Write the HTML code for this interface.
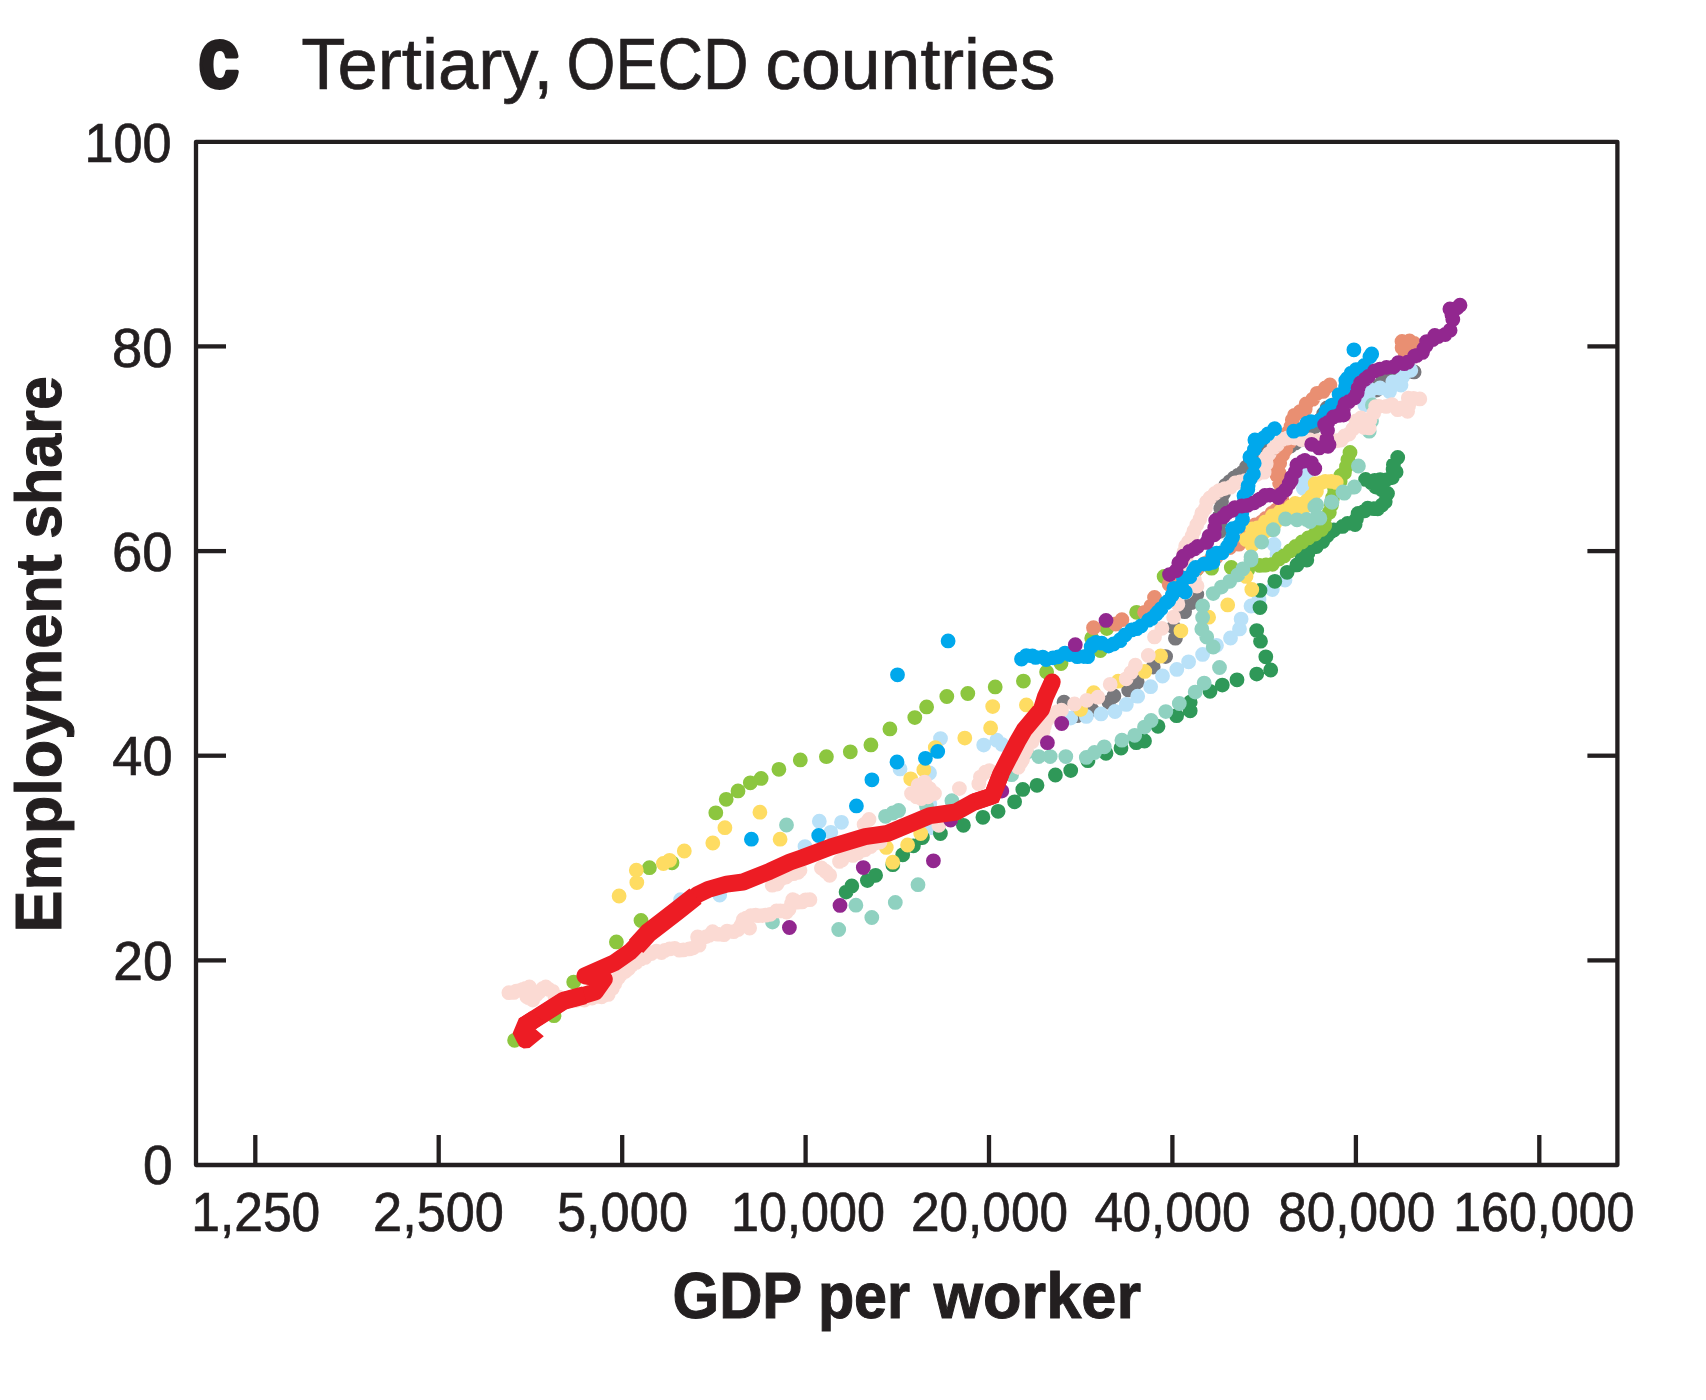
<!DOCTYPE html>
<html lang="en"><head><meta charset="utf-8"><title>Tertiary, OECD countries</title>
<style>
html,body{margin:0;padding:0;background:#fff;}
body{width:1706px;height:1400px;overflow:hidden;font-family:"Liberation Sans",sans-serif;}
svg{display:block;}
text{font-family:"Liberation Sans",sans-serif;fill:#231f20;}
.ax{stroke:#231f20;stroke-width:4.3;fill:none;stroke-linecap:butt;}
.tl{font-size:55.5px;}
.b{font-weight:bold;}
</style></head><body>
<svg width="1706" height="1400" viewBox="0 0 1706 1400">
<rect x="0" y="0" width="1706" height="1400" fill="#ffffff"/>
<g id="series">
<path id="s-gray" d="M1219.8 531.3h.01M1219.9 523.1h.01M1220.0 515.0h.01M1220.8 508.4h.01M1221.5 501.8h.01M1223.5 493.6h.01M1225.6 485.3h.01M1229.8 481.6h.01M1234.0 478.0h.01M1238.4 475.1h.01M1242.8 472.2h.01M1246.4 467.1h.01M1250.0 462.0h.01M1256.0 457.0h.01M1262.0 452.0h.01M1269.0 450.0h.01M1276.0 448.0h.01M1283.2 447.0h.01M1290.4 446.0h.01M1295.2 443.0h.01M1300.0 440.0h.01M1305.3 436.3h.01M1310.7 432.6h.01M1315.3 426.3h.01M1320.0 420.0h.01M1323.5 414.0h.01M1327.0 408.0h.01M1333.5 405.0h.01M1340.0 402.0h.01M1347.5 399.0h.01M1355.0 396.0h.01M1361.5 394.0h.01M1368.0 392.0h.01M1376.4 390.0h.01M1379.7 385.1h.01M1382.9 380.1h.01M1389.0 378.1h.01M1395.0 376.0h.01M1400.0 374.5h.01M1405.0 373.0h.01M1414.1 371.9h.01M1064.0 702.2h.01M1076.9 715.7h.01M1091.7 709.6h.01M1108.9 702.2h.01M1113.9 696.0h.01M1128.6 689.9h.01M1137.2 681.9h.01M1153.2 667.1h.01M1165.6 656.6h.01M1175.4 638.2h.01M1173.6 627.1h.01M1184.6 611.7h.01M1191.4 602.5h.01M1196.8 594.5h.01" fill="none" stroke="#78787c" stroke-width="14.8" stroke-linecap="round"/>
<path id="s-lblue" d="M1070.7 718.1h.01M1086.3 716.4h.01M1101.0 713.9h.01M1115.0 711.5h.01M1126.3 704.4h.01M1137.7 696.2h.01M1150.6 686.7h.01M1162.5 676.0h.01M1176.8 669.4h.01M1188.6 661.8h.01M1202.6 654.4h.01M1216.5 645.3h.01M1230.5 638.0h.01M1239.5 628.9h.01M1241.1 619.1h.01M1251.0 606.0h.01M1259.0 599.4h.01M1272.3 589.5h.01M1285.0 580.0h.01M819.3 821.2h.01M841.5 822.3h.01M830.8 832.3h.01M805.0 846.6h.01M719.7 895.0h.01M680.6 899.7h.01M929.8 804.0h.01M931.4 827.7h.01M940.5 738.6h.01M983.7 745.1h.01M996.8 740.2h.01M1001.8 744.3h.01M900.0 768.9h.01M929.5 773.0h.01M1274.0 544.4h.01M1277.0 554.0h.01M1303.5 482.1h.01M1305.0 472.0h.01M1306.6 478.5h.01M1303.3 488.3h.01M1368.2 394.9h.01M1364.9 404.7h.01M1389.5 391.6h.01M1392.8 381.8h.01M1401.0 385.0h.01M1402.6 376.8h.01M1410.8 370.3h.01M1370.6 389.8h.01M1380.0 388.0h.01" fill="none" stroke="#b9e1f8" stroke-width="14.8" stroke-linecap="round"/>
<path id="s-dgreen" d="M1301.9 555.9h.01M1307.9 553.5h.01M1310.2 547.7h.01M1316.5 546.6h.01M1322.7 541.5h.01M1327.0 535.7h.01M1330.5 532.0h.01M1333.8 530.0h.01M1342.6 526.4h.01M1347.5 523.4h.01M1355.1 524.5h.01M1356.4 519.1h.01M1358.1 513.5h.01M1364.8 510.8h.01M1367.7 508.2h.01M1373.9 508.7h.01M1377.7 508.8h.01M1382.0 504.9h.01M1385.2 501.8h.01M1387.5 493.4h.01M1382.1 490.1h.01M1375.8 487.1h.01M1371.4 482.7h.01M1365.6 479.4h.01M1374.7 480.4h.01M1380.1 479.7h.01M1386.1 479.8h.01M1392.3 477.6h.01M1396.1 472.0h.01M1393.1 469.4h.01M1393.4 464.8h.01M1397.7 457.4h.01M846.1 892.1h.01M851.8 886.0h.01M867.4 880.6h.01M875.6 875.3h.01M892.8 864.7h.01M902.7 854.8h.01M913.4 845.8h.01M922.4 837.6h.01M940.4 833.5h.01M963.4 825.3h.01M982.9 817.3h.01M998.1 811.3h.01M1014.6 801.8h.01M1022.8 789.4h.01M1037.0 785.3h.01M1055.4 775.0h.01M1070.7 770.6h.01M1087.9 760.7h.01M1106.0 753.3h.01M1121.0 748.0h.01M1136.3 742.7h.01M1144.5 741.0h.01M1158.0 726.3h.01M1176.6 715.7h.01M1190.2 710.8h.01M1190.2 702.2h.01M1210.0 691.3h.01M1222.3 685.1h.01M1237.0 679.8h.01M1256.7 674.1h.01M1270.7 670.0h.01M1265.8 656.8h.01M1260.5 641.2h.01M1256.7 630.6h.01M1260.0 607.6h.01M1260.0 590.4h.01M1274.8 581.3h.01M1287.1 572.3h.01M1296.9 564.9h.01M1306.8 560.0h.01" fill="none" stroke="#2f9858" stroke-width="14.8" stroke-linecap="round"/>
<path id="s-lgreen" d="M1321.5 529.5h.01M1324.8 525.6h.01M1324.5 518.3h.01M1329.3 512.6h.01M1331.4 505.0h.01M1332.6 497.8h.01M1334.6 493.6h.01M1334.5 488.1h.01M1340.1 481.4h.01M1340.9 475.4h.01M1344.4 472.7h.01M1346.5 466.5h.01M1347.9 459.7h.01M1350.0 452.5h.01M514.6 1040.3h.01M554.0 1015.7h.01M573.7 982.1h.01M616.4 941.9h.01M641.0 920.5h.01M649.4 867.7h.01M672.0 862.8h.01M715.8 812.8h.01M726.2 799.3h.01M738.0 790.9h.01M750.3 782.8h.01M761.1 778.4h.01M778.9 769.3h.01M800.3 759.9h.01M826.4 756.7h.01M850.3 751.8h.01M870.9 744.9h.01M889.9 728.9h.01M914.8 717.6h.01M926.6 706.9h.01M946.8 696.5h.01M967.8 693.5h.01M995.2 686.9h.01M1023.4 681.1h.01M1046.6 672.1h.01M1061.0 663.5h.01M1091.7 638.2h.01M1100.3 650.5h.01M1106.8 628.6h.01M1136.6 612.3h.01M1164.1 576.5h.01M1180.0 572.0h.01M1196.0 570.0h.01M1211.6 568.2h.01M1231.3 567.4h.01M1247.7 569.8h.01M1259.7 565.4h.01M1266.0 565.0h.01M1272.4 564.3h.01M1278.9 559.0h.01M1284.0 555.9h.01M1290.0 551.0h.01M1295.6 546.4h.01M1302.0 542.0h.01M1308.2 537.9h.01M1315.0 534.0h.01" fill="none" stroke="#8cc63f" stroke-width="14.8" stroke-linecap="round"/>
<path id="s-salmon" d="M1180.4 578.1h.01M1187.4 575.0h.01M1190.4 568.1h.01M1197.8 567.9h.01M1205.2 563.3h.01M1211.1 559.0h.01M1216.2 557.1h.01M1219.9 553.2h.01M1229.8 547.5h.01M1232.8 543.6h.01M1238.9 544.2h.01M1243.4 540.9h.01M1247.7 536.0h.01M1252.8 530.7h.01M1255.1 525.0h.01M1262.0 521.8h.01M1265.7 518.4h.01M1271.9 513.2h.01M1276.1 510.2h.01M1281.9 506.9h.01M1281.7 499.5h.01M1280.6 492.4h.01M1279.6 483.3h.01M1277.1 475.4h.01M1279.1 472.9h.01M1277.0 468.7h.01M1279.7 463.0h.01M1282.7 454.8h.01M1283.8 451.8h.01M1285.8 449.3h.01M1289.7 442.0h.01M1288.1 432.5h.01M1291.0 426.4h.01M1292.3 419.9h.01M1294.5 415.3h.01M1300.0 411.7h.01M1305.2 409.1h.01M1306.1 404.0h.01M1312.7 399.2h.01M1317.1 393.3h.01M1323.2 391.4h.01M1325.4 388.0h.01M1329.9 385.0h.01M1402.0 341.5h.01M1409.5 341.0h.01M1414.2 343.5h.01M1411.2 349.7h.01M1404.9 351.9h.01M1402.1 347.8h.01M1093.5 627.7h.01M1115.7 624.0h.01M1121.9 619.7h.01M1144.6 612.3h.01M1150.8 606.2h.01M1154.5 597.5h.01M1169.2 584.3h.01" fill="none" stroke="#e98f72" stroke-width="14.8" stroke-linecap="round"/>
<path id="s-yellow" d="M1246.1 539.5h.01M1251.1 536.1h.01M1252.2 528.9h.01M1257.4 527.8h.01M1265.4 521.8h.01M1272.3 516.0h.01M1277.6 514.4h.01M1280.6 511.2h.01M1290.5 507.0h.01M1295.2 503.4h.01M1301.8 504.1h.01M1306.9 500.9h.01M1312.5 497.4h.01M1316.0 490.5h.01M1315.2 483.6h.01M1321.6 482.6h.01M1325.2 481.3h.01M1331.3 481.4h.01M1336.2 482.4h.01M1252.0 545.0h.01M1258.4 539.3h.01M1264.5 531.7h.01M1271.3 529.6h.01M1274.8 523.6h.01M1284.7 517.4h.01M1291.1 514.0h.01M1296.9 512.0h.01M1304.8 506.4h.01M759.9 812.2h.01M724.9 827.7h.01M712.8 843.0h.01M780.1 839.2h.01M907.6 845.0h.01M886.3 847.4h.01M892.8 862.2h.01M920.7 833.5h.01M619.1 896.0h.01M636.8 882.5h.01M636.3 870.2h.01M663.4 863.5h.01M669.6 860.3h.01M684.3 851.0h.01M992.7 706.6h.01M1026.4 704.9h.01M990.6 727.9h.01M964.8 738.1h.01M935.3 747.6h.01M923.8 769.8h.01M910.7 778.8h.01M1080.6 709.6h.01M1160.6 656.0h.01M1144.8 671.4h.01M1118.2 681.2h.01M1093.7 692.7h.01M1251.8 589.5h.01M1227.7 604.9h.01M1180.9 630.8h.01M1208.6 617.2h.01M1246.0 576.4h.01M1316.4 491.6h.01M1311.5 496.5h.01" fill="none" stroke="#fedc62" stroke-width="14.8" stroke-linecap="round"/>
<path id="s-teal" d="M1251.0 557.0h.01M1261.7 542.0h.01M1273.2 529.7h.01M1285.5 519.0h.01M1297.0 519.8h.01M1310.1 521.5h.01M1319.9 518.2h.01M1316.6 505.0h.01M1331.4 501.8h.01M1342.9 491.9h.01M1354.4 487.0h.01M1202.6 617.4h.01M1202.6 606.0h.01M1213.2 593.6h.01M1221.4 587.1h.01M1229.7 581.3h.01M1237.9 574.8h.01M1242.8 569.0h.01M1251.0 560.0h.01M1213.2 647.0h.01M1206.7 637.1h.01M1201.8 628.9h.01M1202.6 617.4h.01M772.5 922.1h.01M838.7 929.5h.01M855.9 905.2h.01M871.8 917.5h.01M895.3 902.4h.01M918.0 884.7h.01M786.5 825.0h.01M885.5 816.3h.01M892.8 813.0h.01M898.6 810.5h.01M926.5 806.4h.01M951.9 800.7h.01M1011.6 774.7h.01M1026.4 752.5h.01M1038.7 756.6h.01M1050.2 756.6h.01M1065.8 756.6h.01M1086.3 757.4h.01M1094.5 752.5h.01M1104.3 746.8h.01M1121.9 740.2h.01M1134.7 735.3h.01M1144.5 727.1h.01M1151.1 720.5h.01M1165.8 711.6h.01M1179.3 703.5h.01M1195.2 692.1h.01M1204.2 683.1h.01M1219.5 667.5h.01M1358.4 466.0h.01M1344.3 493.2h.01M1332.0 502.3h.01M1314.8 506.4h.01M1316.4 517.9h.01M1306.6 519.5h.01M1371.5 421.1h.01M1369.2 431.2h.01M1372.4 405.0h.01" fill="none" stroke="#8fd1c0" stroke-width="14.8" stroke-linecap="round"/>
<path id="s-pink" d="M508.9 992.7h.01M513.8 992.4h.01M516.3 991.1h.01M521.0 990.1h.01M522.8 989.4h.01M525.7 988.3h.01M529.4 987.0h.01M528.7 990.5h.01M526.9 996.8h.01M528.7 997.7h.01M532.7 1000.1h.01M536.3 994.8h.01M539.2 991.9h.01M542.9 988.4h.01M545.8 987.0h.01M549.1 989.4h.01M552.6 991.3h.01M554.8 996.0h.01M559.1 997.2h.01M565.0 999.0h.01M570.0 1000.3h.01M576.2 1000.3h.01M580.0 999.0h.01M584.4 1000.0h.01M588.5 997.2h.01M592.0 998.0h.01M596.2 996.4h.01M601.6 996.8h.01M604.2 995.3h.01M608.2 994.4h.01M608.9 991.1h.01M612.3 988.6h.01M614.7 983.7h.01M615.7 981.2h.01M618.6 977.6h.01M621.3 973.9h.01M625.1 971.4h.01M626.2 970.6h.01M628.4 968.8h.01M631.6 965.2h.01M636.1 962.4h.01M640.9 959.0h.01M645.1 957.4h.01M646.4 955.6h.01M648.4 952.5h.01M651.3 953.5h.01M656.4 951.1h.01M661.5 952.5h.01M664.7 950.4h.01M669.6 948.9h.01M674.7 948.3h.01M679.4 950.2h.01M683.4 949.9h.01M689.3 948.9h.01M693.0 948.1h.01M699.1 945.2h.01M698.5 940.7h.01M697.6 937.0h.01M701.7 937.9h.01M706.5 936.6h.01M709.3 935.3h.01M712.6 931.7h.01M713.8 932.8h.01M717.6 934.2h.01M723.9 934.7h.01M727.1 931.1h.01M733.6 931.7h.01M738.1 929.5h.01M741.0 925.6h.01M742.6 922.4h.01M743.4 919.4h.01M746.2 918.1h.01M750.8 915.7h.01M755.7 915.1h.01M758.2 915.7h.01M762.3 915.6h.01M765.6 915.2h.01M770.3 914.3h.01M776.5 910.9h.01M780.3 910.8h.01M783.4 911.1h.01M786.5 912.0h.01M789.0 909.2h.01M791.6 903.4h.01M792.7 899.7h.01M794.4 900.4h.01M797.6 902.2h.01M802.1 901.9h.01M805.6 899.8h.01M809.9 899.7h.01M772.2 885.2h.01M776.9 884.0h.01M778.8 881.1h.01M782.4 878.0h.01M786.0 877.0h.01M788.5 875.0h.01M793.5 873.7h.01M798.1 872.3h.01M800.0 870.2h.01M821.4 868.0h.01M825.2 871.0h.01M826.4 872.1h.01M829.7 875.3h.01M839.5 861.4h.01M841.9 860.0h.01M846.1 855.6h.01M852.9 855.4h.01M857.6 853.2h.01M863.3 850.0h.01M864.9 849.7h.01M870.7 846.6h.01M875.4 843.0h.01M880.0 842.0h.01M1018.2 767.3h.01M1020.9 762.3h.01M1022.5 759.4h.01M1024.8 752.6h.01M1026.4 749.2h.01M1028.9 743.6h.01M1032.0 741.7h.01M1036.2 736.1h.01M1038.3 733.0h.01M1043.1 731.0h.01M1044.4 726.3h.01M1046.2 721.1h.01M1051.0 716.4h.01M1053.5 715.4h.01M1057.5 711.6h.01M1061.5 710.2h.01M1194.4 579.7h.01M1190.8 574.6h.01M1191.1 568.9h.01M1188.0 565.0h.01M1186.1 557.4h.01M1184.0 552.0h.01M1185.7 546.1h.01M1188.4 541.9h.01M1191.9 536.2h.01M1193.9 530.9h.01M1196.8 524.7h.01M1199.8 519.3h.01M1201.8 513.2h.01M1205.4 508.6h.01M1206.7 501.8h.01M1209.9 498.0h.01M1214.9 493.5h.01M1219.2 490.6h.01M1224.7 488.6h.01M1230.4 487.2h.01M1235.2 482.9h.01M1240.0 482.0h.01M1245.1 480.7h.01M1252.0 477.0h.01M1256.8 474.6h.01M1264.1 472.2h.01M1266.2 463.7h.01M1265.8 457.4h.01M1269.3 453.6h.01M1274.0 447.6h.01M1277.2 444.7h.01M1282.2 439.4h.01M1287.5 438.0h.01M1295.0 438.0h.01M1301.7 439.7h.01M1310.0 440.0h.01M1317.9 440.6h.01M1325.0 441.0h.01M1330.7 441.2h.01M1337.1 440.7h.01M1341.0 440.0h.01M1344.6 436.0h.01M1349.0 434.0h.01M1352.8 428.9h.01M1356.0 421.0h.01M1361.0 418.0h.01M1362.6 423.8h.01M1364.0 427.6h.01M1369.2 427.9h.01M1369.9 420.0h.01M1373.7 412.9h.01M1375.7 406.6h.01M1378.8 406.3h.01M1386.2 406.4h.01M1391.9 404.6h.01M1397.7 409.7h.01M1401.8 407.9h.01M1407.6 411.3h.01M1408.6 405.8h.01M1408.3 398.1h.01M1413.5 398.3h.01M1419.8 398.9h.01M749.6 928.0h.01M869.0 819.5h.01M864.1 824.5h.01M938.8 825.3h.01M911.5 793.5h.01M918.1 785.3h.01M924.6 782.1h.01M929.5 788.6h.01M934.5 793.5h.01M921.3 798.5h.01M916.4 796.8h.01M927.9 796.8h.01M980.4 777.1h.01M989.4 770.6h.01M1197.0 586.0h.01M959.4 788.6h.01M978.8 783.7h.01M985.3 772.2h.01M1074.5 704.0h.01M1086.8 700.3h.01M1097.9 697.2h.01M1110.2 684.3h.01M1126.2 678.8h.01M1131.1 672.6h.01M1135.4 665.2h.01M1148.3 655.4h.01M1154.5 636.9h.01M1161.9 628.3h.01M1173.6 617.2h.01M1177.9 604.3h.01M1186.0 592.0h.01" fill="none" stroke="#fbdad3" stroke-width="14.8" stroke-linecap="round"/>
<path id="s-blue" d="M1021.5 659.0h.01M1026.3 655.6h.01M1032.4 655.9h.01M1035.6 657.4h.01M1042.7 657.1h.01M1046.2 659.6h.01M1053.1 657.8h.01M1058.2 656.8h.01M1065.0 653.1h.01M1069.6 654.5h.01M1077.3 656.7h.01M1083.9 656.6h.01M1087.7 656.7h.01M1091.1 646.8h.01M1092.9 644.1h.01M1096.0 642.3h.01M1101.7 643.2h.01M1108.6 646.1h.01M1113.5 644.0h.01M1120.1 640.7h.01M1120.2 639.7h.01M1125.0 634.9h.01M1131.7 629.9h.01M1136.7 628.7h.01M1141.0 625.9h.01M1148.5 620.2h.01M1151.7 618.4h.01M1156.3 613.9h.01M1158.0 611.9h.01M1161.0 608.7h.01M1166.2 602.7h.01M1168.8 600.5h.01M1172.1 595.3h.01M1173.9 588.3h.01M1181.6 586.0h.01M1183.4 578.1h.01M1189.9 576.7h.01M1193.4 570.9h.01M1195.6 567.4h.01M1203.9 564.1h.01M1208.3 563.5h.01M1213.0 562.3h.01M1213.0 554.1h.01M1216.6 553.1h.01M1222.0 552.7h.01M1227.6 546.4h.01M1230.3 542.1h.01M1232.6 537.0h.01M1232.6 528.7h.01M1238.5 526.5h.01M1242.5 519.4h.01M1241.7 513.7h.01M1241.7 506.7h.01M1244.7 499.9h.01M1244.0 495.8h.01M1247.8 489.6h.01M1248.1 485.7h.01M1250.5 478.5h.01M1253.4 474.0h.01M1254.2 463.3h.01M1249.9 457.0h.01M1254.4 449.6h.01M1257.9 442.2h.01M1264.1 437.6h.01M1267.9 433.9h.01M1274.6 428.7h.01M1293.7 431.2h.01M1302.1 429.1h.01M1306.8 423.2h.01M1310.9 421.7h.01M1320.2 420.2h.01M1324.5 416.3h.01M1326.2 411.1h.01M1331.6 405.3h.01M1339.0 403.1h.01M1339.1 394.6h.01M1344.0 393.4h.01M1345.6 386.2h.01M1345.8 380.6h.01M1347.3 378.5h.01M1351.2 373.1h.01M1356.0 369.7h.01M1364.3 365.5h.01M1369.9 356.7h.01M1371.7 354.0h.01M751.4 839.2h.01M818.7 835.5h.01M856.4 805.9h.01M871.9 779.8h.01M897.0 762.0h.01M897.5 674.8h.01M925.4 758.3h.01M937.7 751.4h.01M948.1 640.9h.01M1185.3 592.0h.01M1353.9 349.8h.01M1254.9 440.0h.01" fill="none" stroke="#00a8ec" stroke-width="14.8" stroke-linecap="round"/>
<path id="s-purple" d="M1169.5 574.6h.01M1176.1 570.7h.01M1178.8 563.0h.01M1181.0 561.8h.01M1183.3 556.2h.01M1189.4 551.3h.01M1194.7 548.8h.01M1197.6 546.4h.01M1206.8 542.3h.01M1209.0 536.2h.01M1214.2 534.8h.01M1214.7 527.7h.01M1215.7 520.4h.01M1223.3 516.8h.01M1226.6 513.2h.01M1232.1 510.6h.01M1234.9 507.6h.01M1241.8 506.0h.01M1247.6 505.3h.01M1254.0 502.8h.01M1258.1 500.2h.01M1260.3 498.9h.01M1264.9 495.5h.01M1269.7 495.1h.01M1278.3 497.5h.01M1281.1 494.1h.01M1285.5 490.0h.01M1289.2 483.5h.01M1291.2 480.5h.01M1291.5 477.2h.01M1295.3 471.8h.01M1296.9 465.0h.01M1302.9 461.3h.01M1311.4 462.8h.01M1314.4 468.0h.01M1311.7 444.3h.01M1319.2 447.9h.01M1328.0 446.3h.01M1329.0 444.7h.01M1326.8 439.1h.01M1327.5 430.4h.01M1324.6 424.5h.01M1327.9 422.5h.01M1333.3 416.9h.01M1338.3 415.4h.01M1343.6 415.1h.01M1343.4 408.7h.01M1345.0 403.7h.01M1348.7 401.7h.01M1354.3 398.1h.01M1357.2 392.8h.01M1358.1 387.9h.01M1360.4 383.0h.01M1365.0 379.2h.01M1368.4 376.4h.01M1374.6 370.8h.01M1379.9 369.1h.01M1386.5 367.3h.01M1393.6 366.8h.01M1398.4 362.6h.01M1404.3 363.7h.01M1407.6 362.2h.01M1414.4 356.2h.01M1416.7 355.4h.01M1422.4 352.4h.01M1423.9 348.4h.01M1426.2 345.5h.01M1426.6 341.6h.01M1432.8 339.5h.01M1434.8 335.5h.01M1438.2 336.5h.01M1445.2 334.5h.01M1450.1 330.2h.01M1452.8 319.4h.01M1451.9 314.8h.01M1449.9 308.9h.01M1457.2 307.8h.01M1460.0 305.2h.01M789.4 927.5h.01M840.0 905.4h.01M863.3 867.6h.01M933.4 860.8h.01M950.6 820.0h.01M1001.8 791.1h.01M1047.4 742.7h.01M1061.7 723.5h.01M1075.3 644.7h.01M1106.0 620.4h.01M1304.9 460.4h.01M1314.8 468.6h.01" fill="none" stroke="#92278f" stroke-width="14.8" stroke-linecap="round"/>
<path id="s-red" d="M523.6 1026.2 L563.8 1000.7 L584.4 995.2 L595.3 991.9 L604.3 979.1 L585.0 975.8 L614.4 962.7 L630.8 951.2 L648.5 932.8 L662.5 922.0 L678.0 910.0 L697.5 894.6 L708.4 889.3 L726.6 884.1 L743.1 882.0 L769.7 871.3 L790.0 862.0 L803.0 857.5 L831.0 846.9 L865.1 836.6 L887.6 833.3 L930.0 815.7 L956.0 812.0 L974.4 801.8 L992.2 796.0 L1001.3 772.8 L1017.5 741.5 L1024.3 729.7 L1041.5 709.2 L1045.4 696.9 L1052.2 682.1" fill="none" stroke="#ed1c24" stroke-width="17.0" stroke-linejoin="round" stroke-linecap="butt"/>
<circle cx="1052.2" cy="682.1" r="8.5" fill="#ed1c24"/>
<path d="M636.0 946.5 L648.5 932.8 L662.5 922.0 L678.0 910.0 L695.5 896.2" fill="none" stroke="#ed1c24" stroke-width="19.5" stroke-linejoin="round" stroke-linecap="butt"/>
<path d="M523.6 1026.2 L563.8 1000.7 L584.4 995.2" fill="none" stroke="#ed1c24" stroke-width="18.0" stroke-linejoin="round" stroke-linecap="butt"/>
<path d="M974.4 801.8 L992.2 796.0 L1001.3 772.8" fill="none" stroke="#ed1c24" stroke-width="17.0" stroke-linejoin="miter" stroke-miterlimit="6" stroke-linecap="butt"/>
<polygon points="518.8,1018.6 512.6,1033.3 517.1,1042.3 519.6,1046.4 523.7,1048.5 529.5,1048.1 543.8,1036.2 535.6,1029.2 545.0,1022.0 530.0,1011.5" fill="#ed1c24"/>
</g>
<g id="axes">
<rect class="ax" x="196.0" y="141.8" width="1421.4" height="1023.2" stroke-linejoin="round"/>
<line class="ax" x1="255.3" y1="1165.0" x2="255.3" y2="1135.0"/>
<line class="ax" x1="438.7" y1="1165.0" x2="438.7" y2="1135.0"/>
<line class="ax" x1="622.2" y1="1165.0" x2="622.2" y2="1135.0"/>
<line class="ax" x1="805.6" y1="1165.0" x2="805.6" y2="1135.0"/>
<line class="ax" x1="989.0" y1="1165.0" x2="989.0" y2="1135.0"/>
<line class="ax" x1="1172.4" y1="1165.0" x2="1172.4" y2="1135.0"/>
<line class="ax" x1="1355.9" y1="1165.0" x2="1355.9" y2="1135.0"/>
<line class="ax" x1="1539.3" y1="1165.0" x2="1539.3" y2="1135.0"/>
<line class="ax" x1="196.0" y1="960.4" x2="226.0" y2="960.4"/>
<line class="ax" x1="1617.4" y1="960.4" x2="1587.4" y2="960.4"/>
<line class="ax" x1="196.0" y1="755.7" x2="226.0" y2="755.7"/>
<line class="ax" x1="1617.4" y1="755.7" x2="1587.4" y2="755.7"/>
<line class="ax" x1="196.0" y1="551.1" x2="226.0" y2="551.1"/>
<line class="ax" x1="1617.4" y1="551.1" x2="1587.4" y2="551.1"/>
<line class="ax" x1="196.0" y1="346.4" x2="226.0" y2="346.4"/>
<line class="ax" x1="1617.4" y1="346.4" x2="1587.4" y2="346.4"/>
</g>
<g id="labels">
<text x="191.30" y="1231.00" font-size="55.5" stroke="#231f20" stroke-width="0.7" textLength="129.00" lengthAdjust="spacingAndGlyphs">1,250</text>
<text x="373.10" y="1231.00" font-size="55.5" stroke="#231f20" stroke-width="0.7" textLength="130.70" lengthAdjust="spacingAndGlyphs">2,500</text>
<text x="556.90" y="1231.00" font-size="55.5" stroke="#231f20" stroke-width="0.7" textLength="131.20" lengthAdjust="spacingAndGlyphs">5,000</text>
<text x="731.00" y="1231.00" font-size="55.5" stroke="#231f20" stroke-width="0.7" textLength="153.90" lengthAdjust="spacingAndGlyphs">10,000</text>
<text x="911.00" y="1231.00" font-size="55.5" stroke="#231f20" stroke-width="0.7" textLength="157.00" lengthAdjust="spacingAndGlyphs">20,000</text>
<text x="1094.40" y="1231.00" font-size="55.5" stroke="#231f20" stroke-width="0.7" textLength="156.00" lengthAdjust="spacingAndGlyphs">40,000</text>
<text x="1278.20" y="1231.00" font-size="55.5" stroke="#231f20" stroke-width="0.7" textLength="157.00" lengthAdjust="spacingAndGlyphs">80,000</text>
<text x="1453.20" y="1231.00" font-size="55.5" stroke="#231f20" stroke-width="0.7" textLength="181.20" lengthAdjust="spacingAndGlyphs">160,000</text>
<text x="143.00" y="1183.70" font-size="55.5" stroke="#231f20" stroke-width="0.7" textLength="29.60" lengthAdjust="spacingAndGlyphs">0</text>
<text x="113.20" y="979.50" font-size="55.5" stroke="#231f20" stroke-width="0.7" textLength="59.40" lengthAdjust="spacingAndGlyphs">20</text>
<text x="112.30" y="775.20" font-size="55.5" stroke="#231f20" stroke-width="0.7" textLength="60.30" lengthAdjust="spacingAndGlyphs">40</text>
<text x="112.00" y="570.80" font-size="55.5" stroke="#231f20" stroke-width="0.7" textLength="60.60" lengthAdjust="spacingAndGlyphs">60</text>
<text x="112.00" y="366.60" font-size="55.5" stroke="#231f20" stroke-width="0.7" textLength="60.60" lengthAdjust="spacingAndGlyphs">80</text>
<text x="84.40" y="162.30" font-size="55.5" stroke="#231f20" stroke-width="0.7" textLength="87.20" lengthAdjust="spacingAndGlyphs">100</text>
<text class="b" x="198.3" y="87.3" font-size="85" textLength="41" lengthAdjust="spacingAndGlyphs" stroke="#231f20" stroke-width="4" stroke-linejoin="round">c</text>
<text x="301.30" y="88.80" font-size="71.5" stroke="#231f20" stroke-width="0.7" textLength="252.00" lengthAdjust="spacingAndGlyphs">Tertiary,</text>
<text x="566.40" y="88.80" font-size="71.5" stroke="#231f20" stroke-width="0.7" textLength="182.10" lengthAdjust="spacingAndGlyphs">OECD</text>
<text x="765.30" y="88.80" font-size="71.5" stroke="#231f20" stroke-width="0.7" textLength="290.20" lengthAdjust="spacingAndGlyphs">countries</text>
<text x="672.60" y="1318.30" font-size="64" font-weight="bold" stroke="#231f20" stroke-width="1.0" textLength="129.70" lengthAdjust="spacingAndGlyphs">GDP</text>
<text x="817.90" y="1318.30" font-size="64" font-weight="bold" stroke="#231f20" stroke-width="1.0" textLength="92.30" lengthAdjust="spacingAndGlyphs">per</text>
<text x="933.80" y="1318.30" font-size="64" font-weight="bold" stroke="#231f20" stroke-width="1.0" textLength="207.30" lengthAdjust="spacingAndGlyphs">worker</text>
<text transform="translate(60.80 932.40) rotate(-90)" font-size="64" font-weight="bold" stroke="#231f20" stroke-width="1.0" textLength="378.10" lengthAdjust="spacingAndGlyphs">Employment</text>
<text transform="translate(60.80 538.80) rotate(-90)" font-size="64" font-weight="bold" stroke="#231f20" stroke-width="1.0" textLength="162.60" lengthAdjust="spacingAndGlyphs">share</text>
</g>
</svg></body></html>
